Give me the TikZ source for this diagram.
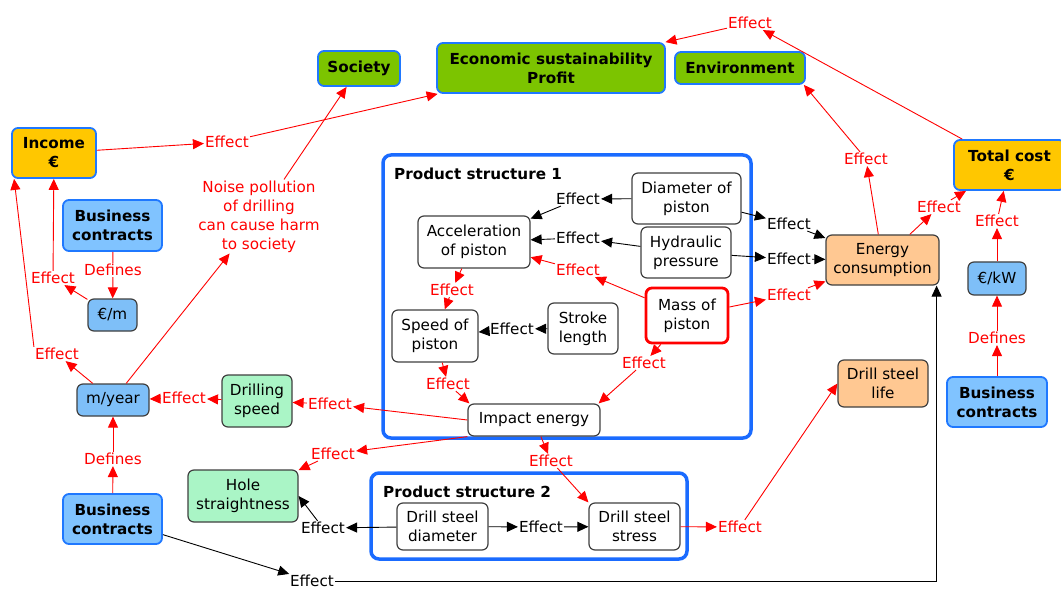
\documentclass[tikz,border=0pt]{standalone}
\usepackage{fontspec}
\setmainfont{DejaVu Sans}
\usetikzlibrary{arrows.meta,calc}
\newcommand\myfs{\fontsize{15.2bp}{19bp}\selectfont}
\definecolor{bord}{HTML}{1F78FF}
\definecolor{contb}{HTML}{1A6BFF}
\definecolor{grn}{HTML}{7CC400}
\definecolor{yel}{HTML}{FFC700}
\definecolor{bcfill}{HTML}{80C3FF}
\definecolor{ufill}{HTML}{7EBFF8}
\definecolor{lgrn}{HTML}{AAF5C6}
\definecolor{peach}{HTML}{FFC892}
\definecolor{gbord}{HTML}{404040}
\definecolor{rd}{HTML}{FF0000}
\tikzset{
  base/.style={rounded corners=6bp, align=center, inner sep=0pt, font=\myfs},
  gbox/.style={base, draw=bord, line width=1.8bp, fill=grn, font=\myfs\bfseries},
  ybox/.style={base, draw=bord, line width=1.8bp, fill=yel, font=\myfs\bfseries},
  bcbox/.style={base, draw=bord, line width=1.8bp, fill=bcfill, font=\myfs\bfseries},
  ubox/.style={base, draw=gbord, line width=1.2bp, fill=ufill},
  lgbox/.style={base, draw=gbord, line width=1.2bp, fill=lgrn},
  pbox/.style={base, draw=gbord, line width=1.2bp, fill=peach},
  wbox/.style={base, draw=gbord, line width=1.2bp, fill=white},
  mbox/.style={base, draw=rd, line width=2.8bp, fill=white},
  cont/.style={rounded corners=8bp, draw=contb, line width=3.5bp, fill=white, inner sep=0pt},
  rlab/.style={inner sep=1bp, font=\myfs, text=rd, align=center},
  klab/.style={inner sep=1bp, font=\myfs, text=black, align=center},
  rln/.style={draw=rd, line width=0.9bp},
  rar/.style={draw=rd, line width=0.9bp, -{Triangle[length=11bp,width=10bp]}},
  kar/.style={draw=black, line width=0.9bp, -{Triangle[length=11bp,width=10bp]}},
}
\begin{document}
\begin{tikzpicture}[x=1bp,y=-1bp]
\useasboundingbox (0,0) rectangle (1061,590);
\fill[white] (0,0) rectangle (1061,590);

% containers
\node[cont, minimum width=368bp, minimum height=283bp] (ps1) at (567,296.5) {};
\node[font=\myfs\bfseries, anchor=west, inner sep=0pt] (ps1t) at (394,174) {Product structure 1};
\node[cont, minimum width=316bp, minimum height=86bp] (ps2) at (529,516) {};
\node[font=\myfs\bfseries, anchor=west, inner sep=0pt] (ps2t) at (383,492) {Product structure 2};

% main nodes
\node[ybox, minimum width=84bp, minimum height=50bp] (income) at (54,153) {Income\\€};
\node[gbox, minimum width=82bp, minimum height=35bp] (society) at (359,68.5) {Society};
\node[gbox, minimum width=228bp, minimum height=50bp] (econ) at (551,68) {Economic sustainability\\Profit};
\node[gbox, minimum width=130bp, minimum height=32bp] (env) at (740,68) {Environment};
\node[ybox, minimum width=111bp, minimum height=50bp] (total) at (1009.5,165) {Total cost\\€};
\node[bcbox, minimum width=99bp, minimum height=51bp] (bc1) at (112.5,225.5) {Business\\contracts};
\node[ubox, minimum width=49bp, minimum height=32bp] (perm) at (112.5,315) {€/m};
\node[ubox, minimum width=72bp, minimum height=32bp] (myear) at (113,400) {m/year};
\node[bcbox, minimum width=99bp, minimum height=50bp] (bc2) at (112.5,519) {Business\\contracts};
\node[lgbox, minimum width=70bp, minimum height=52bp] (drill) at (257,401) {Drilling\\speed};
\node[lgbox, minimum width=110bp, minimum height=52bp] (hole) at (243,496) {Hole\\straightness};
\node[rlab] (noise) at (259,216.5) {Noise pollution\\of drilling\\can cause harm\\to society};

\node[wbox, minimum width=112bp, minimum height=52bp] (accel) at (474,242) {Acceleration\\of piston};
\node[wbox, minimum width=109bp, minimum height=51bp] (diam) at (686.5,198.5) {Diameter of\\piston};
\node[wbox, minimum width=90bp, minimum height=51bp] (hydr) at (686,252.5) {Hydraulic\\pressure};
\node[mbox, minimum width=82bp, minimum height=55bp] (mass) at (687,315.5) {Mass of\\piston};
\node[wbox, minimum width=70bp, minimum height=51bp] (stroke) at (583,328.5) {Stroke\\length};
\node[wbox, minimum width=86bp, minimum height=52bp] (speed) at (435,336) {Speed of\\piston};
\node[wbox, minimum width=132bp, minimum height=32bp] (impact) at (534,420) {Impact energy};
\node[pbox, minimum width=113bp, minimum height=50bp] (energy) at (882.5,260) {Energy\\consumption};
\node[ubox, minimum width=58bp, minimum height=33bp] (perkw) at (997,278.5) {€/kW};
\node[bcbox, minimum width=100bp, minimum height=50bp] (bc3) at (997,402) {Business\\contracts};
\node[pbox, minimum width=90bp, minimum height=47bp] (dslife) at (883,383.5) {Drill steel\\life};
\node[wbox, minimum width=91bp, minimum height=47bp] (dsdiam) at (442.5,526.5) {Drill steel\\diameter};
\node[wbox, minimum width=91bp, minimum height=47bp] (dsstress) at (634.5,526.5) {Drill steel\\stress};

% labels
\node[rlab] (l1) at (227,142) {Effect};
\node[rlab] (l2) at (750,23) {Effect};
\node[rlab] (l3) at (866,159) {Effect};
\node[rlab] (l4) at (939,207) {Effect};
\node[rlab] (l5) at (997,221) {Effect};
\node[rlab] (l6) at (997,338) {Defines};
\node[klab] (l7) at (789,224) {Effect};
\node[klab] (l8) at (789,259) {Effect};
\node[rlab] (l9) at (789,295) {Effect};
\node[klab] (l10) at (578,199) {Effect};
\node[klab] (l11) at (578,238) {Effect};
\node[rlab] (l12) at (578,270) {Effect};
\node[rlab] (l13) at (452,290) {Effect};
\node[klab] (l14) at (512,329) {Effect};
\node[rlab] (l15) at (448,384) {Effect};
\node[rlab] (l16) at (644,363) {Effect};
\node[rlab] (l17) at (551,461) {Effect};
\node[klab] (l18) at (541,527) {Effect};
\node[klab] (l19) at (323,528) {Effect};
\node[rlab] (l20) at (740,527) {Effect};
\node[rlab] (l21) at (330,404) {Effect};
\node[rlab] (l22) at (333,454) {Effect};
\node[rlab] (l23) at (184,398) {Effect};
\node[rlab] (l24) at (57,354) {Effect};
\node[rlab] (l25) at (53,278) {Effect};
\node[rlab] (l26) at (113,270) {Defines};
\node[rlab] (l27) at (113,459) {Defines};
\node[klab] (l28) at (312,581) {Effect};

% connectors
\draw[rar] (income) -- (l1);
\draw[rar] (l1) -- (econ);
\draw[rar] (total) -- (l2);
\draw[rar] (l2) -- (econ);
\draw[rar] (energy) -- (l3);
\draw[rar] (l3) -- ($(env.south east)+(-2,0)$);
\draw[rar] (energy) -- (l4);
\draw[rar] (l4) -- (total);
\draw[rar] (perkw) -- (l5);
\draw[rar] (l5) -- (total);
\draw[rar] (bc3) -- (l6);
\draw[rar] (l6) -- (perkw);
\draw[kar] (diam) -- (l7);
\draw[kar] (l7) -- (energy);
\draw[kar] (hydr) -- (l8);
\draw[kar] (l8) -- (energy);
\draw[rar] (mass) -- (l9);
\draw[rar] (l9) -- (energy);
\draw[kar] (diam) -- (l10);
\draw[kar] (l10) -- (accel);
\draw[kar] (hydr) -- (l11);
\draw[kar] (l11) -- (accel);
\draw[rar] (mass) -- (l12);
\draw[rar] (l12) -- (accel);
\draw[rar] (accel) -- (l13);
\draw[rar] (l13) -- (speed);
\draw[kar] (stroke) -- (l14);
\draw[kar] (l14) -- (speed);
\draw[rar] (speed) -- (l15);
\draw[rar] (l15) -- ($(impact.north west)+(2,0)$);
\draw[rar] (mass) -- (l16);
\draw[rar] (l16) -- ($(impact.north east)+(-2,0)$);
\draw[rar] (impact) -- (l17);
\draw[rar] (l17) -- (dsstress.north west);
\draw[kar] (dsdiam) -- (l18);
\draw[kar] (l18) -- (dsstress);
\draw[kar] (dsdiam) -- (l19);
\draw[kar] (l19) -- (hole.east);
\draw[rar] (dsstress) -- (l20);
\draw[rar] (l20) -- (dslife.west);
\draw[rar] (impact.west) -- (l21);
\draw[rar] (l21) -- (drill);
\draw[rar] (impact.south west) -- (l22);
\draw[rar] (l22) -- (hole);
\draw[rar] (drill) -- (l23);
\draw[rar] (l23) -- (myear);
\draw[rar] (myear) -- (l24);
\draw[rar] (l24.north west) -- ($(income.south west)+(3,0)$);
\draw[rar] (perm) -- (l25);
\draw[rar] (l25) -- (income);
\draw[rln] (bc1) -- (l26);
\draw[rar] (l26) -- (perm);
\draw[rar] (bc2) -- (l27);
\draw[rar] (l27) -- (myear);
\draw[rar] (myear) -- (noise);
\draw[rar] (noise) -- (society);
\draw[kar] (bc2) -- (l28);
\draw[kar] (l28.east) -| ($(energy.south east)+(-3,0)$);
\end{tikzpicture}
\end{document}
